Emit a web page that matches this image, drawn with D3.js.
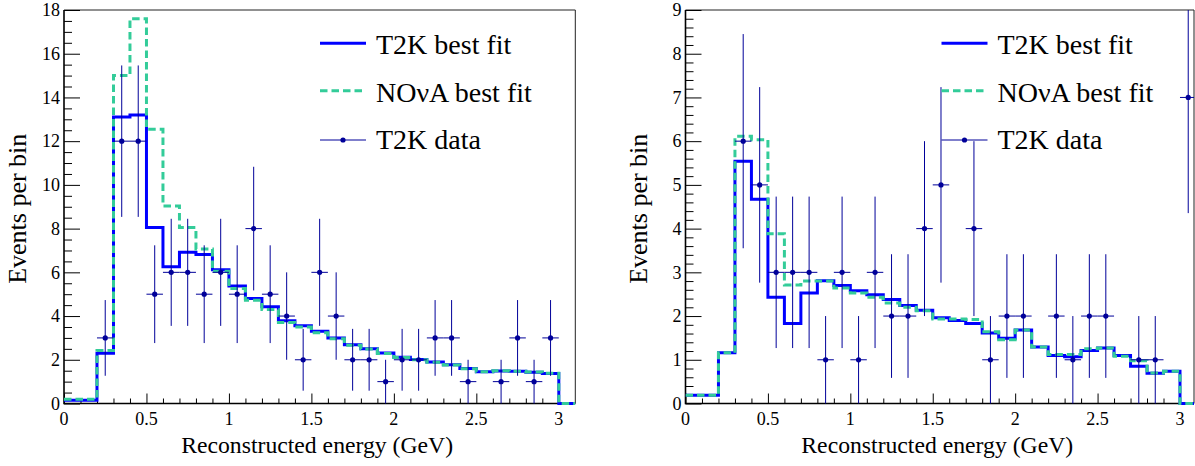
<!DOCTYPE html>
<html><head><meta charset="utf-8">
<script src="https://cdn.jsdelivr.net/npm/d3@7"></script>
</head><body style="margin:0">
<svg id="c" width="1195" height="466"></svg>
<script>
// ---- data ----
const binEdges = [0, 0.2, 0.3, 0.4, 0.5, 0.6, 0.7, 0.8, 0.9, 1.0, 1.1, 1.2, 1.3, 1.4, 1.5, 1.6, 1.7, 1.8, 1.9, 2.0, 2.1, 2.2, 2.3, 2.4, 2.5, 2.6, 2.7, 2.8, 2.9, 3.0, 3.1];
const dataCenters = [0.05, 0.15, 0.25, 0.35, 0.45, 0.55, 0.65, 0.75, 0.85, 0.95, 1.05, 1.15, 1.25, 1.35, 1.45, 1.55, 1.65, 1.75, 1.85, 1.95, 2.05, 2.15, 2.25, 2.35, 2.45, 2.55, 2.65, 2.75, 2.85, 2.95, 3.05];

const leftT2KFit  = [0.15, 2.3, 13.1, 13.2, 8.05, 6.26, 6.92, 6.82, 6.12, 5.38, 4.8, 4.43, 3.79, 3.56, 3.3, 3.0, 2.69, 2.51, 2.31, 2.12, 2.01, 1.9, 1.77, 1.6, 1.45, 1.49, 1.48, 1.43, 1.37, 0];
const leftNOvAFit = [0.2, 2.42, 15.0, 17.6, 12.55, 9.04, 8.05, 7.07, 6.05, 5.26, 4.72, 4.3, 3.7, 3.5, 3.24, 2.96, 2.67, 2.49, 2.29, 2.1, 2.0, 1.89, 1.76, 1.59, 1.45, 1.5, 1.48, 1.44, 1.38, 0];
const leftT2KData = [0, 0, 3, 12, 12, 5, 6, 6, 5, 6, 5, 8, 5, 4, 2, 6, 4, 2, 2, 1, 2, 2, 3, 3, 1, 0, 1, 3, 1, 3, 0];

const rightT2KFit  = [0.19, 1.16, 5.54, 4.67, 2.43, 1.83, 2.53, 2.81, 2.70, 2.58, 2.49, 2.38, 2.24, 2.13, 1.96, 1.90, 1.83, 1.61, 1.49, 1.68, 1.29, 1.10, 1.07, 1.21, 1.27, 1.10, 0.85, 0.69, 0.74, 0];
const rightNOvAFit = [0.19, 1.16, 6.11, 6.03, 3.88, 2.71, 2.80, 2.80, 2.64, 2.53, 2.43, 2.30, 2.20, 2.12, 1.93, 1.93, 1.92, 1.64, 1.46, 1.68, 1.29, 1.12, 1.12, 1.25, 1.27, 1.08, 0.98, 0.70, 0.74, 0];
const rightT2KData = [0, 0, 0, 6, 5, 3, 3, 3, 1, 3, 1, 3, 2, 2, 4, 5, 0, 4, 1, 2, 2, 0, 2, 1, 2, 2, 0, 1, 1, 0, 7];

const xTickValues = [0, 0.5, 1, 1.5, 2, 2.5, 3];
const xTickLabels = ["0", "0.5", "1", "1.5", "2", "2.5", "3"];
const leftYTicks  = [0, 2, 4, 6, 8, 10, 12, 14, 16, 18];
const rightYTicks = [0, 1, 2, 3, 4, 5, 6, 7, 8, 9];
const legendLabels = ["T2K best fit", "NOνA best fit", "T2K data"];
const xTitle = "Reconstructed energy (GeV)";
const yTitle = "Events per bin";

// ---- styles ----
const BLUE = "#0000ff", GREEN = "#33cc99", DATA = "#000099";
const svg = d3.select("#c");

const panels = [
  {id: "L", x0: 64, x1: 575.3, xMax: 3.1, yMax: 18, yMinorStep: 0.5,
   t2k: leftT2KFit, nova: leftNOvAFit, data: leftT2KData, yTicks: leftYTicks, yTitleX: 26},
  {id: "R", x0: 685.5, x1: 1194, xMax: 3.085, yMax: 9, yMinorStep: 0.2,
   t2k: rightT2KFit, nova: rightNOvAFit, data: rightT2KData, yTicks: rightYTicks, yTitleX: 647}
];
const TOP = 10, BOT = 403.5;

// all texts are placed directly in the svg root with an explicit font
function addText(x, y, str, size, anchor, transform) {
  const t = svg.append("text").attr("x", x).attr("y", y)
    .style("font-family", "'Liberation Serif'").style("font-size", size + "px");
  if (anchor) t.attr("text-anchor", anchor);
  if (transform) t.attr("transform", transform);
  t.text(str);
  t.node().getComputedTextLength();
  return t;
}

panels.forEach(p => {
  const x = d3.scaleLinear().domain([0, p.xMax]).range([p.x0, p.x1]);
  const y = d3.scaleLinear().domain([0, p.yMax]).range([BOT, TOP]);
  const g = svg.append("g");

  g.append("clipPath").attr("id", "clip" + p.id)
    .append("rect").attr("x", p.x0).attr("y", TOP).attr("width", p.x1 - p.x0).attr("height", BOT - TOP + 2);

  // frame top/right
  g.append("path")
    .attr("d", `M${p.x0},${TOP}H${p.x1}V${BOT}`)
    .attr("fill", "none").attr("stroke", "#222").attr("stroke-width", 1);

  // x ticks (lines only from the axis generator)
  const xMinor = d3.range(0, 3.05, 0.1).map(v => +v.toFixed(2)).filter(v => !xTickValues.includes(v));
  g.append("g").attr("transform", `translate(0,${BOT})`)
    .call(d3.axisBottom(x).tickValues(xMinor).tickSize(-5).tickSizeOuter(0).tickFormat(""))
    .call(a => a.select(".domain").remove())
    .call(a => a.selectAll("text").remove())
    .call(a => a.selectAll("line").attr("stroke", "#000").attr("stroke-width", 1));
  g.append("g").attr("transform", `translate(0,${BOT})`)
    .call(d3.axisBottom(x).tickValues(xTickValues).tickSize(-10).tickSizeOuter(0).tickFormat(""))
    .call(a => a.select(".domain").remove())
    .call(a => a.selectAll("text").remove())
    .call(a => a.selectAll("line").attr("stroke", "#000").attr("stroke-width", 1));
  xTickValues.forEach((v, i) => addText(x(v), 424.5, xTickLabels[i], 18, "middle"));

  // y ticks
  const yMinor = d3.range(0, p.yMax + 1e-6, p.yMinorStep).map(v => +v.toFixed(2)).filter(v => !p.yTicks.includes(v));
  g.append("g").attr("transform", `translate(${p.x0},0)`)
    .call(d3.axisLeft(y).tickValues(yMinor).tickSize(-8).tickSizeOuter(0).tickFormat(""))
    .call(a => a.select(".domain").remove())
    .call(a => a.selectAll("text").remove())
    .call(a => a.selectAll("line").attr("stroke", "#000").attr("stroke-width", 1));
  g.append("g").attr("transform", `translate(${p.x0},0)`)
    .call(d3.axisLeft(y).tickValues(p.yTicks).tickSize(-16).tickSizeOuter(0).tickFormat(""))
    .call(a => a.select(".domain").remove())
    .call(a => a.selectAll("text").remove())
    .call(a => a.selectAll("line").attr("stroke", "#000").attr("stroke-width", 1));
  p.yTicks.forEach(v => addText(p.x0 - 4, y(v) + 6.2, String(v), 18, "end"));

  // axis lines
  g.append("path").attr("d", `M${p.x0},${TOP}V${BOT}H${p.x1}`)
    .attr("fill", "none").attr("stroke", "#000").attr("stroke-width", 1.6);

  // histograms
  const plot = g.append("g").attr("clip-path", `url(#clip${p.id})`);
  const step = vals => {
    const pts = vals.map((v, i) => [binEdges[i], v]);
    pts.push([binEdges[binEdges.length - 1], vals[vals.length - 1]]);
    return d3.line().x(d => x(d[0])).y(d => y(d[1])).curve(d3.curveStepAfter)(pts);
  };
  plot.append("path").attr("d", step(p.t2k)).attr("fill", "none")
    .attr("stroke", BLUE).attr("stroke-width", 3);
  plot.append("path").attr("d", step(p.nova)).attr("fill", "none")
    .attr("stroke", GREEN).attr("stroke-width", 3).attr("stroke-dasharray", "7.5,4");

  // data points
  const pts = dataCenters.map((c, i) => ({c, n: p.data[i]})).filter(d => d.n > 0);
  const eb = plot.append("g").attr("stroke", DATA).attr("stroke-width", 1);
  pts.forEach(d => {
    const e = Math.sqrt(d.n);
    eb.append("line").attr("x1", x(d.c)).attr("x2", x(d.c))
      .attr("y1", y(Math.max(0, d.n - e))).attr("y2", y(d.n + e));
    eb.append("line").attr("x1", x(d.c - 0.05)).attr("x2", x(d.c + 0.05))
      .attr("y1", y(d.n)).attr("y2", y(d.n));
  });
  plot.append("g").selectAll("circle").data(pts).join("circle")
    .attr("cx", d => x(d.c)).attr("cy", d => y(d.n)).attr("r", 2.6).attr("fill", DATA);

  // legend
  const lx = p.x0 + 256, lx2 = p.x0 + 302, tx = p.x0 + 312;
  const rows = [54.3, 101.7, 149];
  g.append("line").attr("x1", lx).attr("x2", lx2).attr("y1", rows[0] - 11).attr("y2", rows[0] - 11)
    .attr("stroke", BLUE).attr("stroke-width", 3);
  g.append("line").attr("x1", lx).attr("x2", lx2).attr("y1", rows[1] - 11).attr("y2", rows[1] - 11)
    .attr("stroke", GREEN).attr("stroke-width", 3).attr("stroke-dasharray", "7.5,4");
  g.append("line").attr("x1", lx).attr("x2", lx2).attr("y1", rows[2] - 9).attr("y2", rows[2] - 9)
    .attr("stroke", DATA).attr("stroke-width", 1);
  g.append("circle").attr("cx", (lx + lx2) / 2).attr("cy", rows[2] - 9).attr("r", 2.6).attr("fill", DATA);
  legendLabels.forEach((t, i) => addText(tx, rows[i], t, 28));

  // titles
  addText((p.x0 + p.x1) / 2 - 2.5, 453, xTitle, 23.7, "middle");
  addText(0, 0, yTitle, 26, "middle", `translate(${p.yTitleX},${(TOP + BOT) / 2 + 2}) rotate(-90)`);
});
</script>
</body></html>
